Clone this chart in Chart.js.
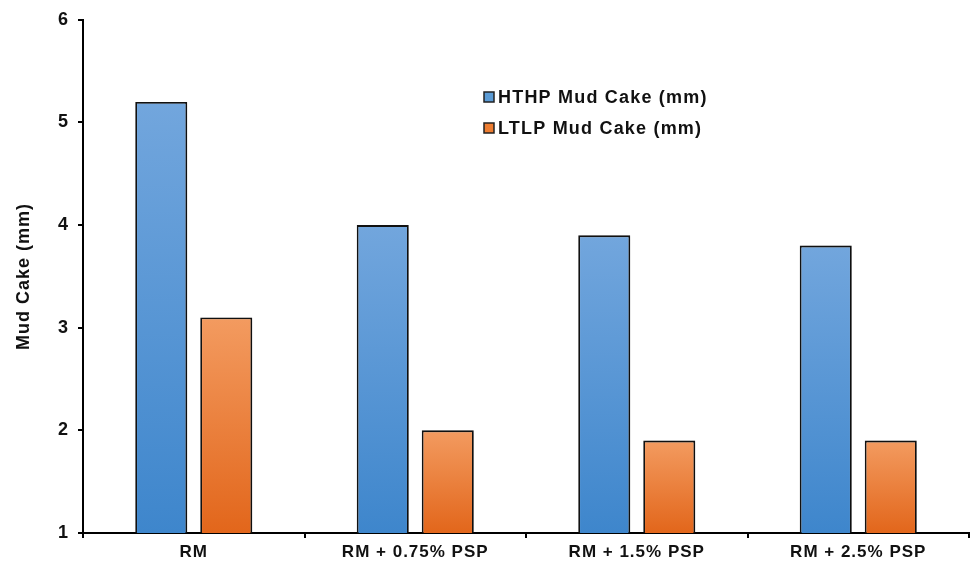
<!DOCTYPE html>
<html><head><meta charset="utf-8">
<script src="https://cdn.jsdelivr.net/npm/chart.js@4"></script>
<style>html,body{margin:0;padding:0;background:#fff}#wrap{width:973px;height:562px}</style>
</head><body><div id="wrap"><canvas id="c" width="973" height="562"></canvas></div>
<script>
const categories = ["RM", "RM + 0.75% PSP", "RM + 1.5% PSP", "RM + 2.5% PSP"];
const hthpValues = [5.2, 4.0, 3.9, 3.8];
const ltlpValues = [3.1, 2.0, 1.9, 1.9];
const seriesLabels = ["HTHP Mud Cake (mm)", "LTLP Mud Cake (mm)"];
const yTicks = [1, 2, 3, 4, 5, 6];

const FONT = "'Liberation Sans', Arial, sans-serif";
const palettes = [
  {top: '#72a6dd', bottom: '#3e86cc', solid: '#5b9bd5'},
  {top: '#f39b60', bottom: '#e2661b', solid: '#ed7d31'}
];

function gradFill(pal) {
  return function(ctx) {
    const chart = ctx.chart;
    const y = chart.scales && chart.scales.y;
    if (!y || !chart.chartArea || ctx.parsed === undefined) return pal.solid;
    const top = y.getPixelForValue(ctx.parsed.y);
    const bottom = y.getPixelForValue(y.min);
    if (!isFinite(top) || !isFinite(bottom) || bottom - top < 1) return pal.solid;
    const g = chart.ctx.createLinearGradient(0, top, 0, bottom);
    g.addColorStop(0, pal.top);
    g.addColorStop(1, pal.bottom);
    return g;
  };
}

const spacingPlugin = {
  id: 'spacing',
  beforeDraw(chart) { chart.ctx.letterSpacing = '1px'; },
  beforeDatasetsDraw(chart) {
    const ctx = chart.ctx;
    ctx.save();
    ctx.shadowColor = 'rgba(0,0,0,0.22)';
    ctx.shadowBlur = 4;
    ctx.shadowOffsetX = 2;
    ctx.shadowOffsetY = 1;
  },
  afterDatasetsDraw(chart) { chart.ctx.restore(); }
};

const legendPlugin = {
  id: 'customLegend',
  afterDraw(chart) {
    const ctx = chart.ctx;
    ctx.save();
    ctx.letterSpacing = '1.2px';
    const x0 = 484, ys = [97, 128];
    chart.data.datasets.forEach((ds, i) => {
      const y = ys[i];
      ctx.fillStyle = palettes[i].solid;
      ctx.fillRect(x0, y - 5, 10, 10);
      ctx.strokeStyle = '#222';
      ctx.lineWidth = 1.5;
      ctx.strokeRect(x0, y - 5, 10, 10);
      ctx.fillStyle = '#111';
      ctx.font = 'bold 18px ' + FONT;
      ctx.textBaseline = 'middle';
      ctx.textAlign = 'left';
      ctx.fillText(ds.label, x0 + 14, y + 1);
    });
    ctx.restore();
  }
};

new Chart(document.getElementById('c'), {
  type: 'bar',
  data: {
    labels: categories,
    datasets: [
      {label: seriesLabels[0], data: hthpValues, backgroundColor: gradFill(palettes[0]), borderColor: '#111', borderWidth: 1.8, borderSkipped: false},
      {label: seriesLabels[1], data: ltlpValues, backgroundColor: gradFill(palettes[1]), borderColor: '#111', borderWidth: 1.8, borderSkipped: false}
    ]
  },
  options: {
    responsive: false,
    animation: false,
    devicePixelRatio: 1,
    layout: {padding: {top: 18, right: 4, left: 0, bottom: 0}},
    datasets: {bar: {categoryPercentage: 0.587, barPercentage: 0.8}},
    plugins: {legend: {display: false}, tooltip: {enabled: false}},
    scales: {
      x: {
        grid: {drawOnChartArea: false, drawTicks: true, tickLength: 5, color: '#000', lineWidth: 2, offset: true},
        border: {display: true, color: '#000', width: 2},
        ticks: {color: '#111', font: {family: FONT, size: 17, weight: 'bold'}, padding: 4, maxRotation: 0, autoSkip: false},
        afterFit(s) { s.height = 29; }
      },
      y: {
        min: yTicks[0], max: yTicks[yTicks.length - 1],
        afterBuildTicks(s) { s.ticks = yTicks.map(v => ({value: v})); },
        grid: {drawOnChartArea: false, drawTicks: true, tickLength: 5, color: '#000', lineWidth: 2},
        border: {display: true, color: '#000', width: 2},
        ticks: {color: '#111', font: {family: FONT, size: 18, weight: 'bold'}, padding: 9},
        title: {display: true, text: 'Mud Cake (mm)', color: '#111', font: {family: FONT, size: 18, weight: 'bold'}, padding: {top: 13, bottom: 0}},
        afterFit(s) { s.width = 83; }
      }
    }
  },
  plugins: [spacingPlugin, legendPlugin]
});
</script></body></html>
